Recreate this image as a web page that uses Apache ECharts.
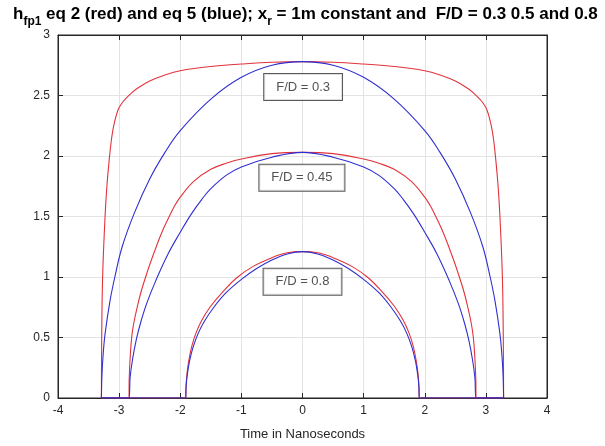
<!DOCTYPE html>
<html>
<head>
<meta charset="utf-8">
<script src="https://cdn.jsdelivr.net/npm/echarts@6/dist/echarts.min.js"></script>
<style>html,body{margin:0;padding:0;background:#fff}#c{width:605px;height:446px}</style>
</head>
<body>
<div id="c"></div>
<script>
// Time axis values (ns) and heights
var tRed03 = [-3.29,-3.285,-3.27,-3.23,-3.2,-3.16,-3.13,-3.1,-3.075,-3.05,-3.025,-3.0,-2.95,-2.9,-2.8,-2.7,-2.5,-2.25,-2.0,-1.5,-1.0,-0.5,0,0.5,1.0,1.5,2.0,2.25,2.5,2.7,2.8,2.9,2.95,3.0,3.025,3.05,3.075,3.1,3.13,3.16,3.2,3.23,3.27,3.285,3.29];
var hRed03 = [0,0.5,1.0,1.5,1.75,1.98,2.12,2.22,2.28,2.33,2.37,2.4,2.44,2.47,2.52,2.56,2.62,2.67,2.705,2.74,2.76,2.775,2.78,2.775,2.76,2.74,2.705,2.67,2.62,2.56,2.52,2.47,2.44,2.4,2.37,2.33,2.28,2.22,2.12,1.98,1.75,1.5,1.0,0.5,0];

var tBlue03 = [-3.29,-3.28,-3.26,-3.23,-3.15,-3.07,-2.95,-2.75,-2.5,-2.25,-2.0,-1.5,-1.0,-0.5,0,0.5,1.0,1.5,2.0,2.25,2.5,2.75,2.95,3.07,3.15,3.23,3.26,3.28,3.29];
var hBlue03 = [0,0.2,0.37,0.53,0.8,1.0,1.25,1.53,1.81,2.03,2.21,2.47,2.65,2.75,2.78,2.75,2.65,2.47,2.21,2.03,1.81,1.53,1.25,1.0,0.8,0.53,0.37,0.2,0];

var tRed045 = [-3.29,-2.84,-2.835,-2.82,-2.795,-2.76,-2.7,-2.64,-2.56,-2.48,-2.4,-2.3,-2.2,-2.1,-2.0,-1.78,-1.5,-1.25,-1.0,-0.5,0,0.5,1.0,1.25,1.5,1.78,2.0,2.1,2.2,2.3,2.4,2.48,2.56,2.64,2.7,2.76,2.795,2.82,2.835,2.84,3.29];
var hRed045 = [0,0,0.16,0.33,0.5,0.62,0.76,0.88,1.01,1.13,1.24,1.37,1.48,1.58,1.66,1.79,1.89,1.94,1.975,2.02,2.03,2.02,1.975,1.94,1.89,1.79,1.66,1.58,1.48,1.37,1.24,1.13,1.01,0.88,0.76,0.62,0.5,0.33,0.16,0,0];

var tBlue045 = [-3.29,-2.84,-2.82,-2.78,-2.72,-2.65,-2.55,-2.4,-2.2,-2.0,-1.82,-1.65,-1.5,-1.25,-1.0,-0.5,0,0.5,1.0,1.25,1.5,1.65,1.82,2.0,2.2,2.4,2.55,2.65,2.72,2.78,2.82,2.84,3.29];
var hBlue045 = [0,0,0.17,0.32,0.48,0.62,0.78,0.97,1.19,1.37,1.52,1.64,1.73,1.84,1.91,1.99,2.03,1.99,1.91,1.84,1.73,1.64,1.52,1.37,1.19,0.97,0.78,0.62,0.48,0.32,0.17,0,0];

var tRed08 = [-3.29,-1.91,-1.905,-1.89,-1.86,-1.81,-1.74,-1.65,-1.5,-1.3,-1.06,-0.8,-0.5,-0.25,0,0.25,0.5,0.8,1.06,1.3,1.5,1.65,1.74,1.81,1.86,1.89,1.905,1.91,3.29];
var hRed08 = [0,0,0.1,0.2,0.31,0.43,0.54,0.64,0.76,0.88,1.0,1.09,1.16,1.2,1.21,1.2,1.16,1.09,1.0,0.88,0.76,0.64,0.54,0.43,0.31,0.2,0.1,0,0];

var tBlue08 = [-3.29,-1.91,-1.905,-1.885,-1.85,-1.79,-1.71,-1.61,-1.45,-1.25,-1.0,-0.75,-0.5,-0.25,0,0.25,0.5,0.75,1.0,1.25,1.45,1.61,1.71,1.79,1.85,1.885,1.905,1.91,3.29];
var hBlue08 = [0,0,0.09,0.19,0.3,0.42,0.53,0.63,0.75,0.87,0.98,1.07,1.14,1.19,1.21,1.19,1.14,1.07,0.98,0.87,0.75,0.63,0.53,0.42,0.3,0.19,0.09,0,0];

var boxLabels = ['F/D = 0.3', 'F/D = 0.45', 'F/D = 0.8'];
var xTicks = [-4, -3, -2, -1, 0, 1, 2, 3, 4];
var yTicks = [0, 0.5, 1, 1.5, 2, 2.5, 3];

function zip(t, h) { return t.map(function (v, i) { return [v, h[i]]; }); }

var RED = '#e2333b', BLUE = '#2f2fd0', AX = '#262626';
var FONT = 'Liberation Sans, Arial, sans-serif';

function line(name, t, h, color) {
  return {
    name: name, type: 'line', data: zip(t, h), showSymbol: false, symbol: 'none',
    smooth: 0.4,
    lineStyle: { color: color, width: 1.1 }, silent: true, animation: false, z: 3
  };
}

var axisCommon = {
  type: 'value',
  axisLine: { show: true, onZero: false, lineStyle: { color: AX, width: 1 } },
  axisTick: { show: true, inside: true, length: 5, lineStyle: { color: AX } },
  splitLine: { show: true, lineStyle: { color: '#e3e3e3', width: 1 } },
  axisLabel: { color: AX, fontSize: 12, fontFamily: FONT }
};

var chart = echarts.init(document.getElementById('c'), null, { renderer: 'canvas' });
chart.setOption({
  animation: false,
  backgroundColor: '#fff',
  title: {
    left: 8, top: 1,
    text: '{a|h}{b|fp1}{a| eq 2 (red) and eq 5 (blue); x}{b|r}{a| = 1m constant and  F/D = 0.3 0.5 and 0.8}',
    textStyle: {
      fontFamily: FONT,
      rich: {
        a: { fontSize: 17, fontWeight: 'bold', color: '#000', lineHeight: 20, verticalAlign: 'top', fontFamily: FONT },
        b: { fontSize: 12, fontWeight: 'bold', color: '#000', lineHeight: 13, padding: [10, 0, 0, 0], verticalAlign: 'top', fontFamily: FONT }
      }
    }
  },
  grid: { left: 58, right: 58, top: 35, bottom: 48, show: true, borderColor: AX, borderWidth: 1, backgroundColor: '#fff' },
  xAxis: [
    Object.assign({}, axisCommon, {
      min: xTicks[0], max: xTicks[xTicks.length - 1], interval: 1, position: 'bottom',
      axisLabel: Object.assign({}, axisCommon.axisLabel, { margin: 7 }),
      name: 'Time in Nanoseconds', nameLocation: 'middle', nameGap: 30,
      nameTextStyle: { color: AX, fontSize: 13, fontFamily: FONT }
    }),
    Object.assign({}, axisCommon, {
      min: xTicks[0], max: xTicks[xTicks.length - 1], interval: 1, position: 'top',
      axisLabel: { show: false }, splitLine: { show: false }
    })
  ],
  yAxis: [
    Object.assign({}, axisCommon, {
      min: yTicks[0], max: yTicks[yTicks.length - 1], interval: 0.5, position: 'left',
      axisLabel: Object.assign({}, axisCommon.axisLabel, { margin: 8 })
    }),
    Object.assign({}, axisCommon, {
      min: yTicks[0], max: yTicks[yTicks.length - 1], interval: 0.5, position: 'right',
      axisLabel: { show: false }, splitLine: { show: false }
    })
  ],
  series: [
    line('eq2 F/D=0.3', tRed03, hRed03, RED),
    line('eq2 F/D=0.45', tRed045, hRed045, RED),
    line('eq2 F/D=0.8', tRed08, hRed08, RED),
    line('eq5 F/D=0.3', tBlue03, hBlue03, BLUE),
    line('eq5 F/D=0.45', tBlue045, hBlue045, BLUE),
    line('eq5 F/D=0.8', tBlue08, hBlue08, BLUE),
    {
      type: 'scatter', silent: true, animation: false, z: 10,
      symbolSize: 0,
      data: [[0.01, 2.57, boxLabels[0]], [-0.01, 1.82, boxLabels[1]], [0.0, 0.96, boxLabels[2]]],
      label: {
        show: true, position: 'inside',
        formatter: function (p) { return p.data[2]; },
        color: AX, fontSize: 13, fontFamily: FONT,
        backgroundColor: '#fff', borderColor: '#303030', borderWidth: 1,
        padding: [7, 12, 6, 12]
      }
    }
  ]
});
</script>
</body>
</html>
